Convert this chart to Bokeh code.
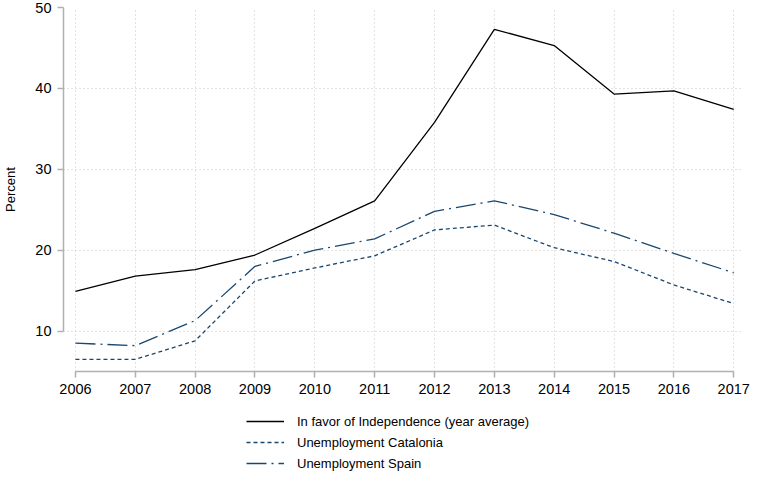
from bokeh.plotting import figure
from bokeh.layouts import column
from bokeh.models import FixedTicker, Legend, LegendItem, Range1d
from bokeh.embed import file_html
from bokeh.resources import INLINE

years = [2006, 2007, 2008, 2009, 2010, 2011, 2012, 2013, 2014, 2015, 2016, 2017]
independence = [14.9, 16.8, 17.6, 19.4, 22.7, 26.1, 35.8, 47.3, 45.3, 39.3, 39.7, 37.4]
unemp_catalonia = [6.5, 6.5, 8.8, 16.2, 17.8, 19.3, 22.5, 23.1, 20.3, 18.6, 15.7, 13.4]
unemp_spain = [8.5, 8.2, 11.3, 18.0, 20.0, 21.4, 24.8, 26.1, 24.4, 22.1, 19.6, 17.2]
y_ticks = [10, 20, 30, 40, 50]
series_labels = [
    "In favor of Independence (year average)",
    "Unemployment Catalonia",
    "Unemployment Spain",
]

FONT = "Liberation Sans"
BLUE = "#1a476f"
AXIS_GRAY = "#b0b0b0"
series = [independence, unemp_catalonia, unemp_spain]
styles = [
    dict(line_color="black", line_width=1.3, line_dash="solid"),
    dict(line_color=BLUE, line_width=1.3, line_dash="4 3"),
    dict(line_color=BLUE, line_width=1.3, line_dash="20 5 2 5"),
]

p = figure(
    width=751, height=398,
    x_range=Range1d(2005.8, 2017.13), y_range=Range1d(5, 50),
    output_backend="svg", toolbar_location=None,
    min_border_left=50, min_border_top=7, min_border_right=10, min_border_bottom=27,
)
p.outline_line_color = None
p.background_fill_color = "white"
p.border_fill_color = "white"

for ys, st in zip(series, styles):
    p.line(years, ys, **st)

p.xaxis.ticker = FixedTicker(ticks=years)
p.yaxis.ticker = FixedTicker(ticks=y_ticks)
p.xgrid.ticker = FixedTicker(ticks=years)
p.ygrid.ticker = FixedTicker(ticks=y_ticks)
p.xaxis.bounds = (2006, 2017)
p.yaxis.bounds = (10, 50)

for ax in (p.xaxis, p.yaxis):
    ax.axis_line_color = AXIS_GRAY
    ax.axis_line_width = 1.5
    ax.major_tick_line_color = AXIS_GRAY
    ax.major_tick_line_width = 1.5
    ax.major_tick_in = 0
    ax.major_tick_out = 6
    ax.minor_tick_line_color = None
    ax.major_label_text_font = FONT
    ax.major_label_text_font_size = "14.5px"
    ax.major_label_text_color = "black"
    ax.major_label_standoff = 6

p.yaxis.axis_label = "Percent"
p.yaxis.axis_label_text_font = FONT
p.yaxis.axis_label_text_font_size = "13px"
p.yaxis.axis_label_text_font_style = "normal"
p.yaxis.axis_label_text_color = "black"
p.yaxis.axis_label_standoff = 14

for g in (p.xgrid, p.ygrid):
    g.grid_line_color = "#c4c4c4"
    g.grid_line_dash = "1 3"
    g.grid_line_width = 1

# Legend panel below the chart; its renderers hold the series but lie outside its view
p2 = figure(
    width=751, height=75,
    x_range=Range1d(0, 1), y_range=Range1d(0, 1),
    output_backend="svg", toolbar_location=None,
    x_axis_location=None, y_axis_location=None,
    min_border=0, min_border_left=0, min_border_right=0,
    min_border_top=0, min_border_bottom=0,
)
p2.outline_line_color = None
p2.xgrid.visible = False
p2.ygrid.visible = False

legend_renderers = [p2.line(years, ys, **st) for ys, st in zip(series, styles)]

legend = Legend(
    items=[LegendItem(label=lab, renderers=[r]) for lab, r in zip(series_labels, legend_renderers)],
    location=(183, 0),
    orientation="vertical",
    border_line_color=None,
    background_fill_alpha=0,
    label_text_font=FONT,
    label_text_font_size="13px",
    label_text_color="black",
    glyph_width=38,
    glyph_height=20,
    label_height=20,
    spacing=1,
    padding=0,
    margin=0,
    label_standoff=13,
)
p2.add_layout(legend, "center")

layout = column(p, p2, spacing=0)
open("out.html", "w").write(file_html(layout, INLINE))
